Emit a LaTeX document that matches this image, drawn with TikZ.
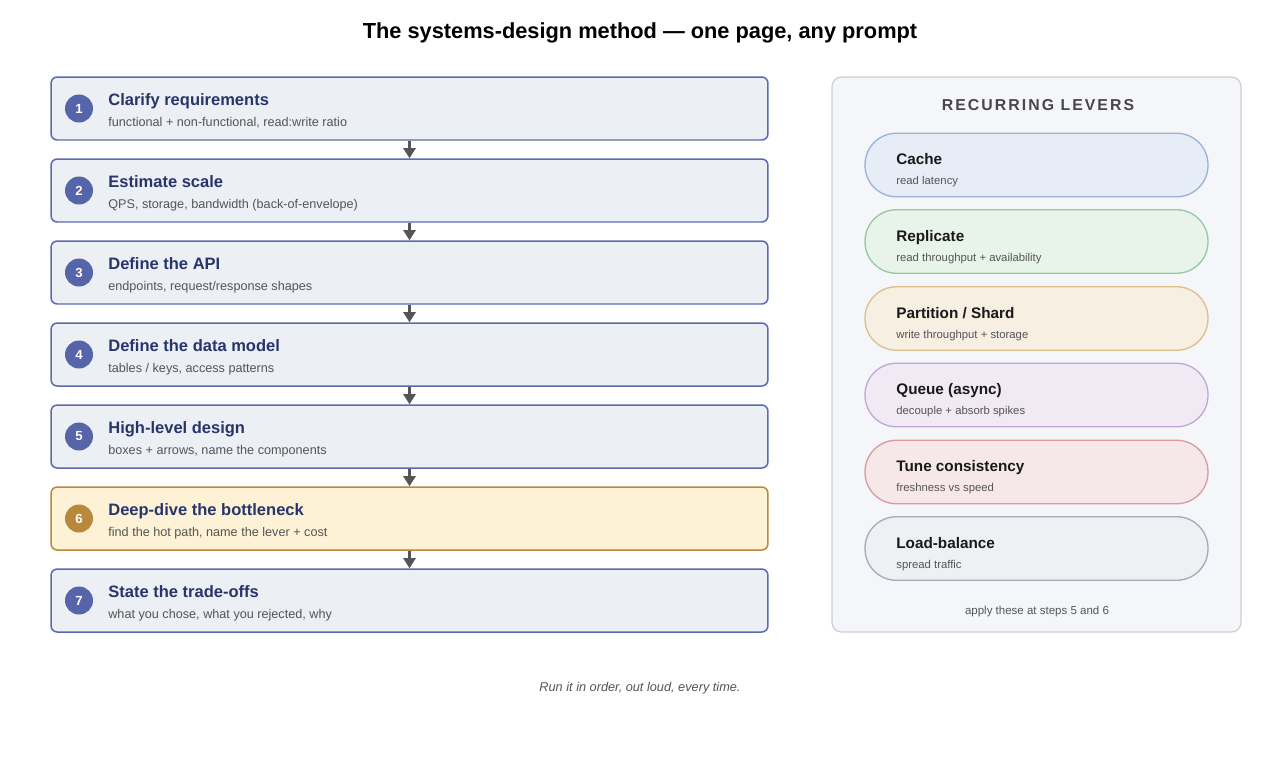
\documentclass[tikz,border=0pt]{standalone}
\usepackage{fontspec}
\setmainfont{Liberation Sans}
\usetikzlibrary{arrows.meta,positioning}
\definecolor{stepfill}{HTML}{ECEFF4}
\definecolor{stepline}{HTML}{5B6AB0}
\definecolor{numfill}{HTML}{5664A9}
\definecolor{titlecol}{HTML}{27356B}
\definecolor{subcol}{HTML}{555555}
\definecolor{hotfill}{HTML}{FDF1D6}
\definecolor{hotline}{HTML}{B8893A}
\definecolor{panelfill}{HTML}{F5F6FA}
\definecolor{panelline}{HTML}{CDCED3}
\definecolor{cachefill}{HTML}{E6EDF7}\definecolor{cacheline}{HTML}{9BB1D7}
\definecolor{replfill}{HTML}{E8F3EA}\definecolor{replline}{HTML}{95CAA2}
\definecolor{partfill}{HTML}{F6EFE2}\definecolor{partline}{HTML}{DCC08C}
\definecolor{queuefill}{HTML}{F1EAF5}\definecolor{queueline}{HTML}{C1A8D3}
\definecolor{tunefill}{HTML}{F6E8E8}\definecolor{tuneline}{HTML}{D99B9B}
\definecolor{lbfill}{HTML}{EEF0F3}\definecolor{lbline}{HTML}{A9A9BD}

\begin{document}
\begin{tikzpicture}[x=0.02cm,y=-0.02cm]
\tikzstyle{stepbox}=[draw=stepline,fill=stepfill,line width=0.85pt,rounded corners=3.5pt,minimum width=14.34cm,minimum height=1.26cm,inner sep=0pt]
\tikzstyle{hotbox}=[stepbox,draw=hotline,fill=hotfill]
\tikzstyle{num}=[circle,fill=numfill,text=white,minimum size=0.56cm,inner sep=0pt,font=\bfseries\fontsize{7.5}{9}\selectfont]
\tikzstyle{ttl}=[anchor=base west,inner sep=0pt,text=titlecol,font=\bfseries\fontsize{9.4}{11}\selectfont]
\tikzstyle{sub}=[anchor=base west,inner sep=0pt,text=subcol,font=\fontsize{7.2}{9}\selectfont]
\tikzstyle{flow}=[draw=subcol,line width=1.2pt,-{Triangle[length=5.8pt,width=7pt]}]
\tikzstyle{lever}=[line width=0.75pt,rounded corners=17.8pt,minimum width=6.86cm,minimum height=1.27cm,inner sep=0pt]
\tikzstyle{lttl}=[anchor=base west,inner sep=0pt,text=black!90,font=\bfseries\fontsize{8.7}{10}\selectfont]
\tikzstyle{lsub}=[anchor=base west,inner sep=0pt,text=subcol,font=\fontsize{6.45}{8}\selectfont]

\fill[white] (0,0) rectangle (1280,768);
\useasboundingbox (0,0) rectangle (1280,768);

\node[anchor=base,inner sep=0pt,font=\bfseries\fontsize{12.4}{15}\selectfont] (title) at (640,38) {The systems-design method — one page, any prompt};

% the seven steps
\node[stepbox] (s1) at (409.5,108.5) {};
\node[num] (n1) at (79,108.5) {1};
\node[ttl] (t1) at (108,105) {Clarify requirements};
\node[sub] (d1) at (108,126) {functional + non-functional, read:write ratio};

\node[stepbox] (s2) at (409.5,190.5) {};
\node[num] (n2) at (79,190.5) {2};
\node[ttl] (t2) at (108,187) {Estimate scale};
\node[sub] (d2) at (108,208) {QPS, storage, bandwidth (back-of-envelope)};

\node[stepbox] (s3) at (409.5,272.5) {};
\node[num] (n3) at (79,272.5) {3};
\node[ttl] (t3) at (108,269) {Define the API};
\node[sub] (d3) at (108,290) {endpoints, request/response shapes};

\node[stepbox] (s4) at (409.5,354.5) {};
\node[num] (n4) at (79,354.5) {4};
\node[ttl] (t4) at (108,351) {Define the data model};
\node[sub] (d4) at (108,372) {tables / keys, access patterns};

\node[stepbox] (s5) at (409.5,436.5) {};
\node[num] (n5) at (79,436.5) {5};
\node[ttl] (t5) at (108,433) {High-level design};
\node[sub] (d5) at (108,454) {boxes + arrows, name the components};

\node[hotbox] (s6) at (409.5,518.5) {};
\node[num,fill=hotline] (n6) at (79,518.5) {6};
\node[ttl] (t6) at (108,515) {Deep-dive the bottleneck};
\node[sub] (d6) at (108,536) {find the hot path, name the lever + cost};

\node[stepbox] (s7) at (409.5,600.5) {};
\node[num] (n7) at (79,600.5) {7};
\node[ttl] (t7) at (108,597) {State the trade-offs};
\node[sub] (d7) at (108,618) {what you chose, what you rejected, why};

\draw[flow] (s1) -- (s2);
\draw[flow] (s2) -- (s3);
\draw[flow] (s3) -- (s4);
\draw[flow] (s4) -- (s5);
\draw[flow] (s5) -- (s6);
\draw[flow] (s6) -- (s7);

% levers panel
\draw[fill=panelfill,draw=panelline,line width=0.7pt,rounded corners=5.5pt] (832,77) rectangle (1241,632);
\node[anchor=base,inner sep=0pt,text=black!72,font=\bfseries\fontsize{9}{11}\selectfont\addfontfeatures{LetterSpace=13}] (head) at (1038,110) {RECURRING LEVERS};

\node[lever,draw=cacheline,fill=cachefill] (l1) at (1036.5,165) {};
\node[lttl] at (896,164) {Cache};
\node[lsub] at (896,184) {read latency};

\node[lever,draw=replline,fill=replfill] (l2) at (1036.5,241.5) {};
\node[lttl] at (896,241) {Replicate};
\node[lsub] at (896,261) {read throughput + availability};

\node[lever,draw=partline,fill=partfill] (l3) at (1036.5,318.5) {};
\node[lttl] at (896,318) {Partition / Shard};
\node[lsub] at (896,338) {write throughput + storage};

\node[lever,draw=queueline,fill=queuefill] (l4) at (1036.5,395) {};
\node[lttl] at (896,394) {Queue (async)};
\node[lsub] at (896,414) {decouple + absorb spikes};

\node[lever,draw=tuneline,fill=tunefill] (l5) at (1036.5,472) {};
\node[lttl] at (896,471) {Tune consistency};
\node[lsub] at (896,491) {freshness vs speed};

\node[lever,draw=lbline,fill=lbfill] (l6) at (1036.5,548.5) {};
\node[lttl] at (896,548) {Load-balance};
\node[lsub] at (896,568) {spread traffic};

\node[anchor=base,inner sep=0pt,text=subcol,font=\fontsize{6.55}{8}\selectfont] (foot) at (1037,614) {apply these at steps 5 and 6};

\node[anchor=base,inner sep=0pt,text=subcol,font=\itshape\fontsize{7.25}{9}\selectfont] (caption) at (640,691) {Run it in order, out loud, every time.};
\end{tikzpicture}
\end{document}
